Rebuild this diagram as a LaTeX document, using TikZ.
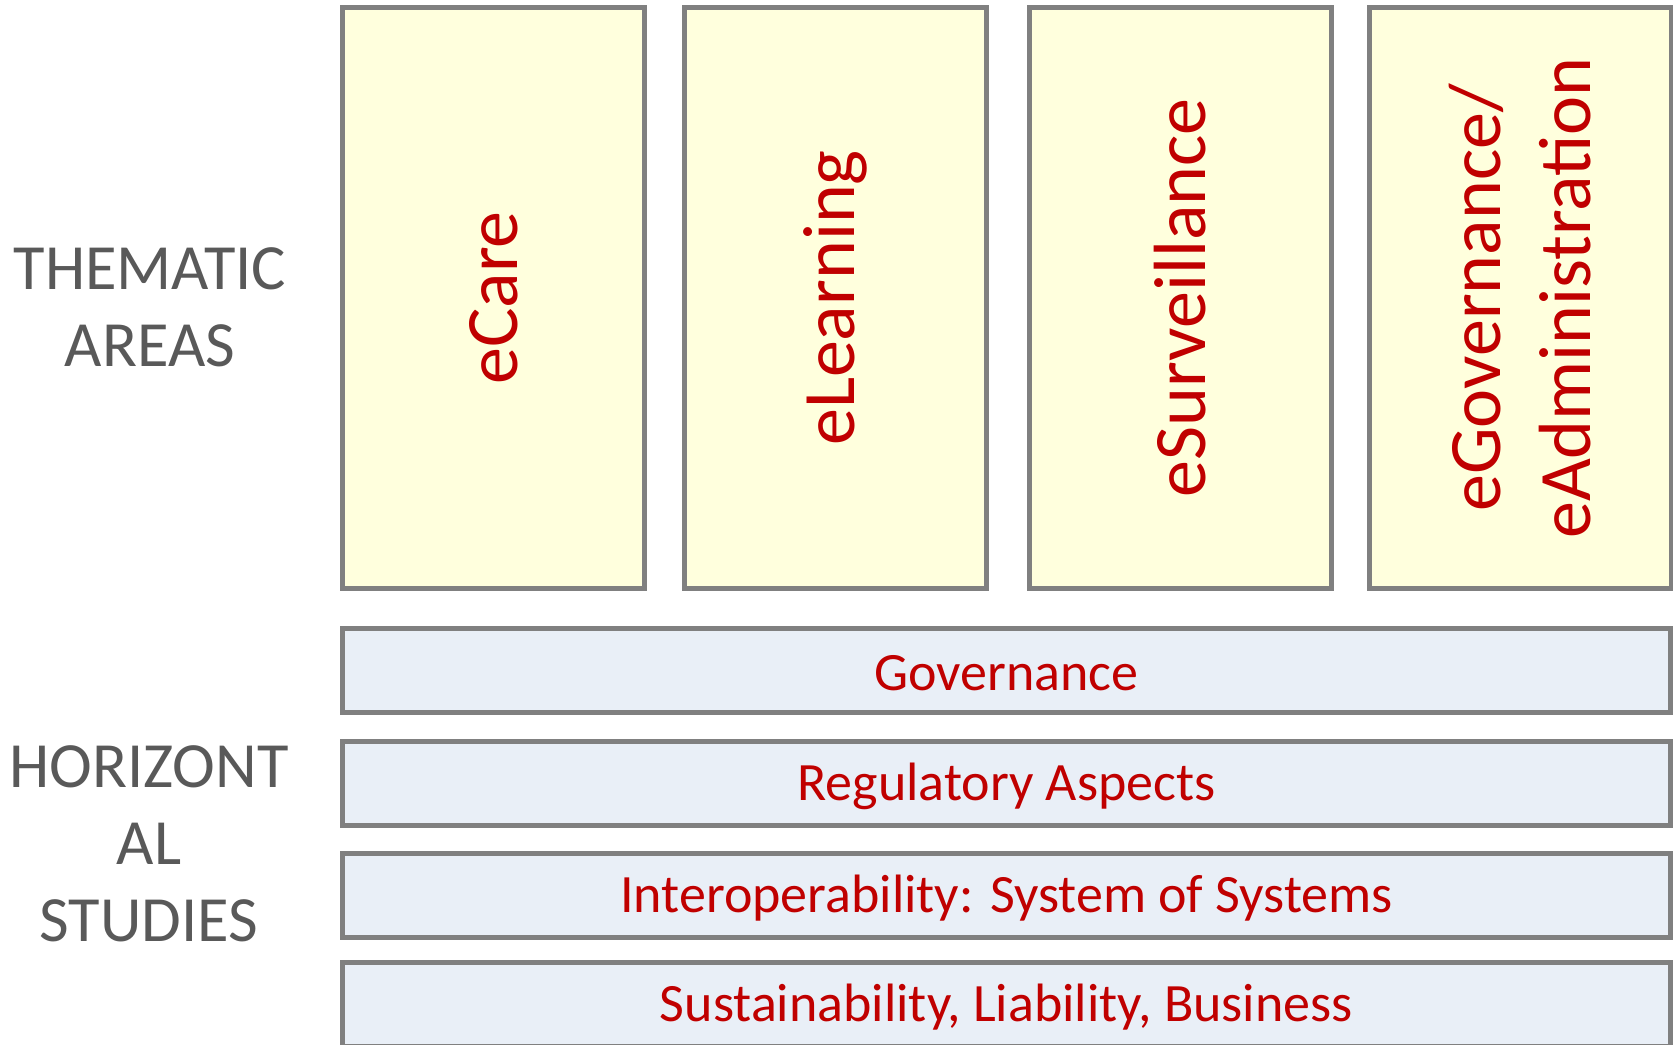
\documentclass[tikz,border=0pt]{standalone}
\usepackage{fontspec}
\setmainfont{Carlito}
\definecolor{boxgray}{HTML}{808080}
\definecolor{yfill}{HTML}{FFFFDD}
\definecolor{bfill}{HTML}{E9EFF7}
\definecolor{redtxt}{HTML}{C00000}
\definecolor{graytxt}{HTML}{595959}
\newcommand{\lowtxt}[1]{\raisebox{-3pt}[\height][\depth]{#1}}
\begin{document}
\begin{tikzpicture}[x=1pt,y=-1pt,
  thembox/.style={draw=boxgray,line width=5pt,fill=yfill,rotate=90,
    minimum width=581pt,minimum height=302pt,inner sep=0pt,
    text=redtxt,align=center,font=\fontsize{74}{90}\selectfont},
  horbox/.style={draw=boxgray,line width=5pt,fill=bfill,
    minimum width=1328pt,minimum height=84pt,inner sep=0pt,
    text=redtxt,font=\fontsize{54}{64}\selectfont},
  sidelabel/.style={text=graytxt,align=center,inner sep=0pt,
    font=\fontsize{64.5}{77}\selectfont}]
\useasboundingbox (0,0) rectangle (1673,1044);
\begin{scope}
\clip (0,0) rectangle (1673,1044);
\node[thembox] (ecare) at (493.5,298) {eCare};
\node[thembox] (elearn) at (835.5,298) {eLearning};
\node[thembox] (esurv) at (1180.5,298) {eSurveillance};
\node[thembox] (egov) at (1520,298) {eGovernance/\\eAdministration};
\node[horbox] (gov) at (1006.5,670.5) {\lowtxt{Governance}};
\node[horbox] (reg) at (1006.5,783.5) {\lowtxt{Regulatory Aspects}};
\node[horbox] (inter) at (1006.5,895) {\lowtxt{Interoperability: System of Systems}};
\node[horbox] (sust) at (1006.5,1004.5) {\lowtxt{Sustainability, Liability, Business}};
\end{scope}
\node[sidelabel] (them) at (150,307) {THEMATIC\\AREAS};
\node[sidelabel] (hor) at (149,844) {HORIZONT\\AL\\STUDIES};
\end{tikzpicture}
\end{document}
